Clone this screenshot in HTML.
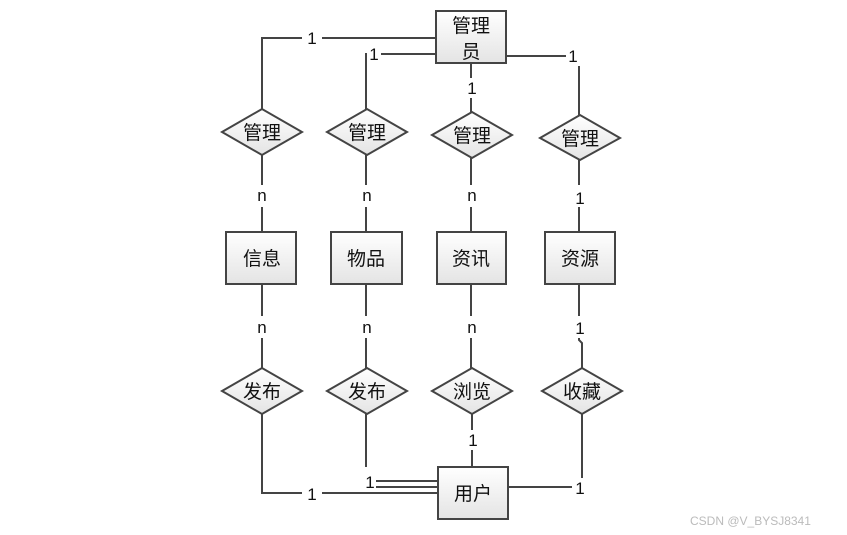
<!DOCTYPE html>
<html><head><meta charset="utf-8"><style>
html,body{margin:0;padding:0;background:#fff;width:847px;height:535px;overflow:hidden}
text{font-family:"Liberation Sans","Noto Sans CJK SC",sans-serif;fill:#111}
</style></head><body>
<svg width="847" height="535" viewBox="0 0 847 535" xmlns="http://www.w3.org/2000/svg">
<defs>
<linearGradient id="g" x1="0" y1="0" x2="0" y2="1"><stop offset="0" stop-color="#ffffff"/><stop offset="1" stop-color="#e4e4e4"/></linearGradient>
</defs>
<g stroke="#444" stroke-width="2" fill="none">
<!-- top connectors -->
<polyline points="436,38 262,38 262,109"/>
<polyline points="436,54 366,54 366,109"/>
<line x1="471" y1="63" x2="471" y2="112"/>
<polyline points="506,56 579,56 579,115"/>
<!-- middle -->
<line x1="262" y1="155" x2="262" y2="232"/>
<line x1="366" y1="155" x2="366" y2="232"/>
<line x1="471" y1="158" x2="471" y2="232"/>
<line x1="579" y1="160" x2="579" y2="232"/>
<line x1="262" y1="284" x2="262" y2="368"/>
<line x1="366" y1="284" x2="366" y2="368"/>
<line x1="471" y1="284" x2="471" y2="368"/>
<polyline points="579,284 579,340 582,343 582,368"/>
<!-- bottom -->
<polyline points="262,414 262,493 438,493"/>
<line x1="366" y1="414" x2="366" y2="467"/>
<line x1="375" y1="481" x2="438" y2="481"/>
<line x1="375" y1="487" x2="438" y2="487"/>
<line x1="472" y1="414" x2="472" y2="467"/>
<polyline points="508,487 582,487 582,414"/>
</g>
<g fill="#fff">
<rect x="302" y="28" width="20" height="20"/><rect x="367" y="44" width="14" height="20"/>
<rect x="462" y="78" width="18" height="20"/><rect x="566" y="46" width="16" height="20"/>
<rect x="250" y="185" width="24" height="22"/><rect x="355" y="185" width="24" height="22"/>
<rect x="460" y="185" width="24" height="22"/><rect x="568" y="185" width="24" height="22"/>
<rect x="250" y="316" width="24" height="22"/><rect x="355" y="316" width="24" height="22"/>
<rect x="460" y="316" width="24" height="22"/><rect x="568" y="316" width="24" height="22"/>
<rect x="462" y="430" width="20" height="20"/><rect x="302" y="483" width="20" height="20"/>
<rect x="362" y="472" width="14" height="20"/><rect x="572" y="478" width="18" height="20"/>
</g>
<g font-size="17" text-anchor="middle">
<text x="312" y="44">1</text><text x="374" y="60">1</text><text x="472" y="94">1</text><text x="573" y="62">1</text>
<text x="262" y="201">n</text><text x="367" y="201">n</text><text x="472" y="201">n</text><text x="580" y="204">1</text>
<text x="262" y="333">n</text><text x="367" y="333">n</text><text x="472" y="333">n</text><text x="580" y="334">1</text>
<text x="473" y="446">1</text><text x="312" y="500">1</text><text x="370" y="488">1</text><text x="580" y="494">1</text>
</g>
<!-- boxes -->
<g stroke="#444" stroke-width="2" fill="url(#g)">
<rect x="436" y="11" width="70" height="52"/>
<rect x="226" y="232" width="70" height="52"/>
<rect x="331" y="232" width="71" height="52"/>
<rect x="437" y="232" width="69" height="52"/>
<rect x="545" y="232" width="70" height="52"/>
<rect x="438" y="467" width="70" height="52"/>
<!-- diamonds -->
<polygon points="222,132 262,109 302,132 262,155"/>
<polygon points="327,132 367,109 407,132 367,155"/>
<polygon points="432,135 472,112 512,135 472,158"/>
<polygon points="540,138 580,115 620,138 580,160"/>
<polygon points="222,391 262,368 302,391 262,414"/>
<polygon points="327,391 367,368 407,391 367,414"/>
<polygon points="432,391 472,368 512,391 472,414"/>
<polygon points="542,391 582,368 622,391 582,414"/>
</g>
<g font-size="19" text-anchor="middle">
<text x="471" y="32">管理</text><text x="471" y="58">员</text>
<text x="262" y="265">信息</text><text x="366" y="265">物品</text><text x="471" y="265">资讯</text><text x="580" y="265">资源</text>
<text x="473" y="500">用户</text>
<text x="262" y="139">管理</text><text x="367" y="139">管理</text><text x="472" y="142">管理</text><text x="580" y="145">管理</text>
<text x="262" y="398">发布</text><text x="367" y="398">发布</text><text x="472" y="398">浏览</text><text x="582" y="398">收藏</text>
</g>
<text x="690" y="525" font-size="12" fill="#bbb" style="fill:#bbb">CSDN @V_BYSJ8341</text>
</svg>
</body></html>
